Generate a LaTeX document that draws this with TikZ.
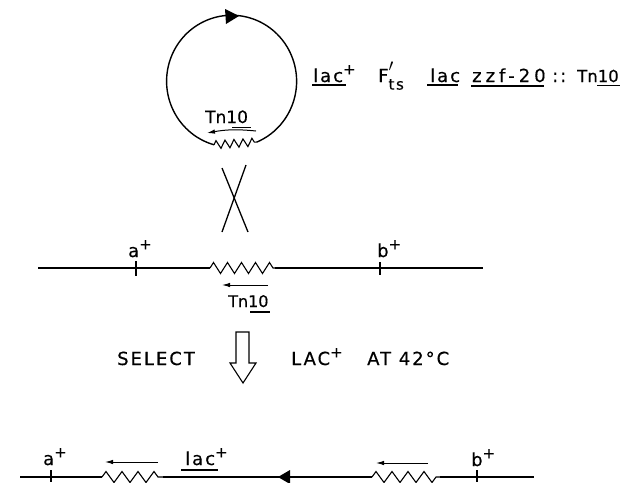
\documentclass[tikz,border=0pt]{standalone}
\usepackage{fontspec}
\setmainfont[LetterSpace=11,FakeBold=0.4]{DejaVu Sans}
\newfontfamily\tnfont[FakeBold=0.4]{DejaVu Sans}
\newfontfamily\widefont[LetterSpace=22,FakeBold=0.4]{DejaVu Sans}
\usetikzlibrary{arrows.meta, decorations.pathmorphing, positioning}
\newcommand{\plusup}{\raisebox{0.42em}{\fontsize{15}{15}\selectfont +}}
\tikzset{
  dna/.style={line width=1.4pt},
  gene/.style={line width=1.1pt, decoration={zigzag, segment length=#1, amplitude=5.5pt}, decorate},
  tick/.style={line width=1.1pt},
  orient/.style={line width=1pt, -{Latex[length=8pt,width=4.5pt]}},
  lbl/.style={inner sep=0pt, anchor=base west, font=\fontsize{18}{18}\selectfont},
  tnlbl/.style={inner sep=0pt, anchor=base west, font=\fontsize{16}{16}\selectfont\tnfont},
  under/.style={line width=1.1pt}
}
\begin{document}
\begin{tikzpicture}[x=1pt,y=-1pt]
  \useasboundingbox (0,0) rectangle (629,482);

  % plasmid
  \coordinate (zr) at (257,142);
  \coordinate (zl) at (214,144.8);
  \draw[dna] (zr) arc[start angle=67, end angle=-254.3, x radius=65, y radius=66];
  \draw[gene=9pt, decoration={amplitude=4pt}] (zl) -- (zr);
  \fill (225,9) -- (239,16) -- (226,24) -- cycle;
  \coordinate (ta) at (256,131);
  \coordinate (tb) at (207,133);
  \draw[orient] (ta) to[bend right=8] (tb);
  \node[tnlbl, font=\fontsize{17}{17}\selectfont\tnfont] (tnc) at (205,123) {Tn10};
  \draw[under] (232,127.5) -- (251,127.5);

  % labels next to the plasmid
  \node[lbl] (lac1) at (313,82) {lac\plusup};
  \draw[under] (312,85) -- (346,85);
  \node[lbl] (fts) at (378,82) {F\rlap{\raisebox{0.1em}{\fontsize{24}{24}\selectfont$'$}}\raisebox{-0.42em}{\fontsize{15}{15}\selectfont ts}};
  \node[lbl] (lac2) at (430,82) {lac};
  \draw[under] (427,85) -- (458,85);
  \node[lbl, font=\fontsize{18}{18}\selectfont\widefont] (zzf) at (472,82) {zzf-20};
  \draw[under] (471,86) -- (544,86);
  \node[lbl] (dots) at (552,82) {::};
  \node[tnlbl, font=\fontsize{16.5}{16.5}\selectfont\tnfont] (tna) at (577,82) {Tn10};
  \draw[under] (597,85.5) -- (620,85.5);

  % crossover
  \coordinate (xa) at (222,168);
  \coordinate (xb) at (248,232);
  \coordinate (xc) at (246,165);
  \coordinate (xd) at (222,232);
  \draw[line width=1.3pt] (xa) -- (xb);
  \draw[line width=1.3pt] (xc) -- (xd);

  % chromosome
  \coordinate (cl) at (38,268);
  \coordinate (cr) at (483,268);
  \coordinate (gl) at (210,268);
  \coordinate (gr) at (275,268);
  \draw[dna] (cl) -- (gl);
  \draw[gene=14pt] (gl) -- (gr);
  \draw[dna] (gr) -- (cr);
  \draw[tick] (136,261) -- (136,276);
  \draw[tick] (380,262) -- (380,275);
  \node[lbl] (aplus) at (128,257) {a\plusup};
  \node[lbl] (bplus) at (377,257) {b\plusup};
  \coordinate (ca) at (268,285);
  \coordinate (cb) at (222,285);
  \draw[orient] (ca) -- (cb);
  \node[tnlbl] (tnb) at (228,307) {Tn10};
  \draw[under] (250,312) -- (270,312);

  % selection
  \node[lbl] (sel) at (117,365) {SELECT};
  \draw[line width=1.1pt] (236,332) -- (249,332) -- (249,363) -- (256,363) -- (243,383) -- (230,363) -- (236,363) -- cycle;
  \node[lbl] (lacp) at (291,365) {LAC\plusup};
  \node[lbl] (temp) at (367,365) {AT 42°C};

  % recombinant
  \coordinate (rl) at (20,477);
  \coordinate (rr) at (534,477);
  \coordinate (g1) at (102,477);
  \coordinate (g2) at (163,477);
  \coordinate (g3) at (372,477);
  \coordinate (g4) at (440,477);
  \draw[dna] (rl) -- (g1);
  \draw[gene=16pt] (g1) -- (g2);
  \draw[dna] (g2) -- (g3);
  \draw[gene=16pt] (g3) -- (g4);
  \draw[dna] (g4) -- (rr);
  \draw[tick] (51,470) -- (51,482);
  \draw[tick] (477,470) -- (477,482);
  \fill (278,477) -- (290,470) -- (290,484) -- cycle;
  \node[lbl] (a2) at (43,465) {a\plusup};
  \node[lbl] (b2) at (471,466) {b\plusup};
  \node[lbl] (lac3) at (185,465) {lac\plusup};
  \draw[under] (181,470) -- (218,470);
  \coordinate (d1) at (158,462);
  \coordinate (d2) at (105,462);
  \coordinate (d3) at (428,463);
  \coordinate (d4) at (376,463);
  \draw[orient] (d1) -- (d2);
  \draw[orient] (d3) -- (d4);
\end{tikzpicture}
\end{document}
